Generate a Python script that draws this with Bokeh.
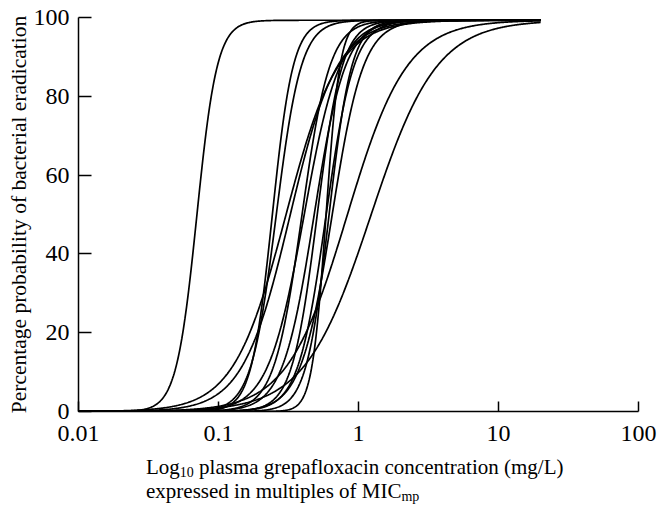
import math
import numpy as np
from bokeh.plotting import figure
from bokeh.models import Range1d, FixedTicker, CustomJSTickFormatter, Div
from bokeh.layouts import column
from bokeh.embed import file_html
from bokeh.resources import INLINE

# Per-curve Emax (Hill) model parameters
ec50 = [0.070, 0.242, 0.258, 0.324, 0.394, 0.408, 0.481, 0.506, 0.586, 0.586,
        0.647, 0.302, 0.615, 0.828, 1.223]
hill = [5.98, 5.84, 4.86, 2.58, 4.38, 3.40, 3.89, 4.86, 4.38, 8.76,
        3.89, 2.33, 5.35, 2.04, 1.85]
emax = 99.3
conc_min = 0.01
conc_max = 20.0

x_ticks = [0.01, 0.1, 1, 10, 100]
y_ticks = [0, 20, 40, 60, 80, 100]

FONT = "Liberation Serif"

p = figure(width=657, height=449, x_axis_type="log",
           x_range=Range1d(0.01, 100), y_range=Range1d(0, 100),
           output_backend="svg", toolbar_location=None,
           min_border_left=78, min_border_right=19,
           min_border_top=17, min_border_bottom=38)

conc = np.logspace(math.log10(conc_min), math.log10(conc_max), 600)
for c50, h in zip(ec50, hill):
    eff = emax * conc ** h / (c50 ** h + conc ** h)
    p.line(conc, eff, line_color="black", line_width=1.7)

p.grid.visible = False
p.outline_line_color = None
p.background_fill_color = "white"
p.border_fill_color = "white"

xa = p.xaxis[0]
xa.ticker = FixedTicker(ticks=x_ticks)
xa.formatter = CustomJSTickFormatter(code="return tick.toString();")
xa.major_tick_in = 10
xa.major_tick_out = 0
xa.minor_tick_line_color = None
xa.major_tick_line_width = 1.5
xa.axis_line_width = 1.5
xa.axis_line_color = "black"
xa.major_tick_line_color = "black"
xa.major_label_text_font = FONT
xa.major_label_text_font_size = "24px"
xa.major_label_text_color = "black"
xa.major_label_standoff = 14

ya = p.yaxis[0]
ya.ticker = FixedTicker(ticks=y_ticks)
ya.major_tick_in = 13
ya.major_tick_out = 0
ya.minor_tick_line_color = None
ya.major_tick_line_width = 1.5
ya.axis_line_width = 1.5
ya.axis_line_color = "black"
ya.major_tick_line_color = "black"
ya.major_label_text_font = FONT
ya.major_label_text_font_size = "24px"
ya.major_label_text_color = "black"
ya.major_label_standoff = 9
ya.axis_label = "Percentage probability of bacterial eradication"
ya.axis_label_text_font = FONT
ya.axis_label_text_font_size = "21.5px"
ya.axis_label_text_font_style = "normal"
ya.axis_label_text_color = "black"
ya.axis_label_standoff = 0

sub = "font-size:14px; vertical-align:-3px; line-height:14px;"
title_html = (
    f"<div style='line-height:23px'>Log<span style='{sub}'>10</span> "
    f"plasma grepafloxacin concentration (mg/L)</div>"
    f"<div style='line-height:23px'>expressed in multiples of MIC"
    f"<span style='{sub}'>mp</span></div>"
)
xtitle = Div(text=title_html, width=500, height=40,
             margin=(7, 0, 0, 146),
             styles={"font-family": FONT, "font-size": "21px",
                     "line-height": "23px", "color": "black",
                     "white-space": "nowrap"})

layout = column(p, xtitle, spacing=0)

open("out.html", "w").write(file_html(layout, INLINE))
